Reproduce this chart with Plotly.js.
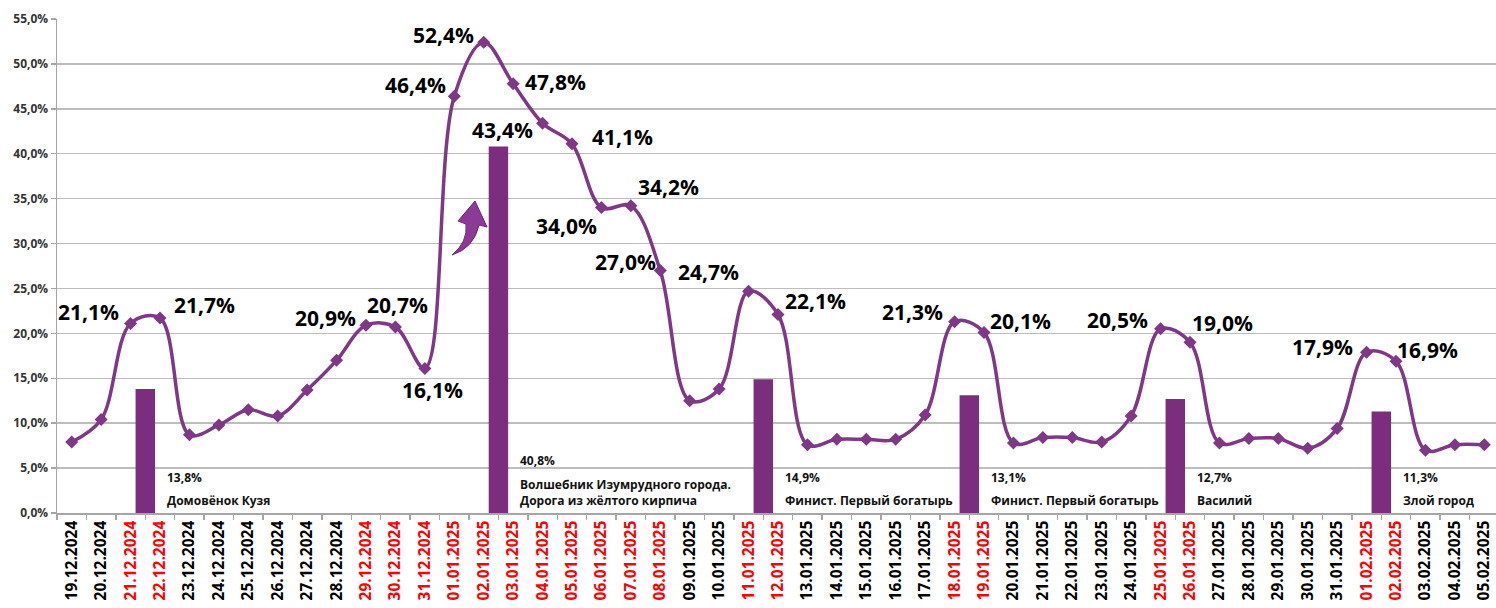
<!DOCTYPE html>
<html>
<head>
<meta charset="utf-8">
<script src="https://cdn.plot.ly/plotly-3.0.1.min.js"></script>
<style>
html, body { margin: 0; padding: 0; overflow: hidden; background: #fff; }
#chart { width: 1500px; height: 608px; }
</style>
</head>
<body>
<div id="chart"></div>
<script>
// ---- DATA ----
const categories = [
  '19.12.2024','20.12.2024','21.12.2024','22.12.2024','23.12.2024','24.12.2024','25.12.2024',
  '26.12.2024','27.12.2024','28.12.2024','29.12.2024','30.12.2024','31.12.2024',
  '01.01.2025','02.01.2025','03.01.2025','04.01.2025','05.01.2025','06.01.2025','07.01.2025',
  '08.01.2025','09.01.2025','10.01.2025','11.01.2025','12.01.2025','13.01.2025','14.01.2025',
  '15.01.2025','16.01.2025','17.01.2025','18.01.2025','19.01.2025','20.01.2025','21.01.2025',
  '22.01.2025','23.01.2025','24.01.2025','25.01.2025','26.01.2025','27.01.2025','28.01.2025',
  '29.01.2025','30.01.2025','31.01.2025','01.02.2025','02.02.2025','03.02.2025','04.02.2025',
  '05.02.2025'
];
const redDates = [
  '21.12.2024','22.12.2024','29.12.2024','30.12.2024','31.12.2024',
  '01.01.2025','02.01.2025','03.01.2025','04.01.2025','05.01.2025','06.01.2025','07.01.2025','08.01.2025',
  '11.01.2025','12.01.2025','18.01.2025','19.01.2025','25.01.2025','26.01.2025',
  '01.02.2025','02.02.2025'
];
const shareValues = [
  7.9, 10.4, 21.1, 21.7, 8.7, 9.8, 11.5,
  10.8, 13.7, 17.0, 20.9, 20.7, 16.1,
  46.4, 52.4, 47.8, 43.4, 41.1, 34.0, 34.2,
  27.0, 12.5, 13.8, 24.7, 22.1, 7.6, 8.2,
  8.2, 8.2, 10.9, 21.3, 20.1, 7.8, 8.4,
  8.4, 7.9, 10.8, 20.5, 19.0, 7.8, 8.3,
  8.3, 7.2, 9.4, 17.9, 16.9, 7.0, 7.6,
  7.6
];
const barCategories = ['21.12.2024','02.01.2025','11.01.2025','18.01.2025','25.01.2025','01.02.2025'];
const barValues = [13.8, 40.8, 14.9, 13.1, 12.7, 11.3];
const barFilms = [
  'Домовёнок Кузя',
  'Волшебник Изумрудного города.<br>Дорога из жёлтого кирпича',
  'Финист. Первый богатырь',
  'Финист. Первый богатырь',
  'Василий',
  'Злой город'
];
const labelledDates = [
  '21.12.2024','22.12.2024','29.12.2024','30.12.2024','31.12.2024',
  '01.01.2025','02.01.2025','03.01.2025','04.01.2025','05.01.2025','06.01.2025','07.01.2025','08.01.2025',
  '11.01.2025','12.01.2025','18.01.2025','19.01.2025','25.01.2025','26.01.2025','01.02.2025','02.02.2025'
];

// ---- STYLE / POSITIONS ----
const labelShift = {
  '21.12.2024':[-42,11], '22.12.2024':[44,13], '29.12.2024':[-41,7], '30.12.2024':[2,22],
  '31.12.2024':[8,-22], '01.01.2025':[-39,11], '02.01.2025':[-40,7], '03.01.2025':[42,2],
  '04.01.2025':[-40,-7], '05.01.2025':[50,7], '06.01.2025':[-35,-18], '07.01.2025':[38,19],
  '08.01.2025':[-35,8], '11.01.2025':[-40,19], '12.01.2025':[37,14], '18.01.2025':[-42,10],
  '19.01.2025':[36,11], '25.01.2025':[-43,9], '26.01.2025':[32,19], '01.02.2025':[-44,5],
  '02.02.2025':[31,11]
};
const purple = '#7b2d7e';
const lineColor = '#7e3886';
const fmt = v => v.toFixed(1).replace('.', ',') + '%';

const tickText = categories.map(c => redDates.includes(c)
  ? '<span style="color:#ff0000">' + c + '</span>' : c);

const traces = [
  {
    type: 'bar',
    x: barCategories,
    y: barValues,
    width: 0.66,
    offset: 0.17,
    marker: { color: purple },
    hoverinfo: 'skip'
  },
  {
    type: 'scatter',
    mode: 'lines+markers',
    x: categories,
    y: shareValues,
    line: { color: lineColor, width: 3.5, shape: 'spline', smoothing: 1 },
    marker: { symbol: 'diamond', size: 10, color: lineColor },
    hoverinfo: 'skip'
  }
];

const annotations = [];
labelledDates.forEach(d => {
  const i = categories.indexOf(d);
  const s = labelShift[d] || [0, 15];
  annotations.push({
    x: d, y: shareValues[i], xref: 'x', yref: 'y',
    text: fmt(shareValues[i]), showarrow: false,
    xshift: s[0], yshift: s[1],
    font: { family: 'Open Sans, sans-serif', size: 21, color: '#000', weight: 'bold' }
  });
});
barCategories.forEach((c, k) => {
  const nLines = barFilms[k].split('<br>').length;
  annotations.push({
    x: c, y: 0, xref: 'x', yref: 'y',
    text: barFilms[k], showarrow: false, align: 'left',
    xanchor: 'left', yanchor: 'bottom', xshift: 34, yshift: 2,
    font: { family: 'Open Sans, sans-serif', size: 12, color: '#111', weight: 'bold' }
  });
  annotations.push({
    x: c, y: 0, xref: 'x', yref: 'y',
    text: fmt(barValues[k]), showarrow: false, align: 'left',
    xanchor: 'left', yanchor: 'bottom', xshift: 34, yshift: 2 + nLines * 17 + 6,
    font: { family: 'Open Sans, sans-serif', size: 12, color: '#111', weight: 'bold' }
  });
});

// decorative curved arrow (pixel -> paper)
const L = 57, T = 19, W = 1442, H = 494;
const px = x => ((x - L) / W).toFixed(5);
const py = y => ((T + H - y) / H).toFixed(5);
const arrowPts = [
  ['M', 452, 255], ['Q', 468, 242, 466, 224], ['L', 458, 221], ['L', 475, 201],
  ['L', 487, 227], ['L', 479, 225], ['Q', 474, 248, 452, 255]
];
const arrowPath = arrowPts.map(p => {
  const cmd = p[0]; const nums = p.slice(1); const out = [];
  for (let j = 0; j < nums.length; j += 2) out.push(px(nums[j]) + ',' + py(nums[j + 1]));
  return cmd + out.join(' ');
}).join(' ') + ' Z';

const layout = {
  width: 1500, height: 608,
  margin: { l: L, r: 1, t: T, b: 95 },
  paper_bgcolor: '#fff', plot_bgcolor: '#fff',
  showlegend: false,
  hovermode: false,
  separators: ', ',
  xaxis: {
    type: 'category',
    categoryorder: 'array', categoryarray: categories,
    tickmode: 'array', tickvals: categories, ticktext: tickText,
    tickson: 'boundaries',
    tickangle: -90,
    ticks: 'outside', ticklen: 5, tickcolor: '#a6a6a6', tickwidth: 1.5,
    showline: true, linecolor: '#a6a6a6', linewidth: 1.5,
    showgrid: false, zeroline: false,
    range: [-0.5, 48.5],
    tickfont: { family: 'Open Sans, sans-serif', size: 15.5, color: '#000', weight: 'bold' }
  },
  yaxis: {
    range: [0, 55], dtick: 5, tick0: 0,
    tickformat: '.1f', ticksuffix: '%',
    ticks: 'outside', ticklen: 5, tickcolor: '#a6a6a6', tickwidth: 1.5,
    showline: true, linecolor: '#a6a6a6', linewidth: 1.5,
    showgrid: true, gridcolor: '#bdbdbd', gridwidth: 1.5,
    zeroline: false,
    tickfont: { family: 'Open Sans, sans-serif', size: 12, color: '#333', weight: 'bold' }
  },
  annotations: annotations,
  shapes: [{
    type: 'path', xref: 'paper', yref: 'paper', path: arrowPath,
    fillcolor: '#8b3a95', line: { color: '#6e2475', width: 1 }
  }]
};

Plotly.newPlot('chart', traces, layout, { displayModeBar: false, staticPlot: true });
</script>
</body>
</html>
